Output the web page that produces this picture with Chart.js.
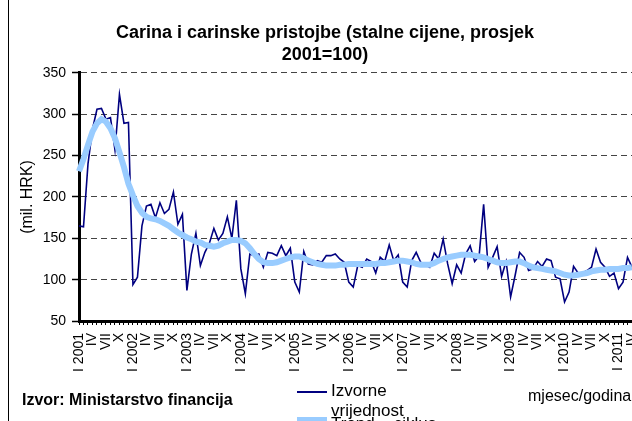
<!DOCTYPE html>
<html>
<head>
<meta charset="utf-8">
<script src="https://cdn.jsdelivr.net/npm/chart.js@4.4.1/dist/chart.umd.min.js"></script>
<style>
  html, body { margin: 0; padding: 0; background: #fff; overflow: hidden; }
  #wrap { position: relative; width: 632px; height: 421px; font-family: "Liberation Sans", Arial, sans-serif; color: #000; }
  #chart { position: absolute; left: 0; top: 0; }
  .okvir { position: absolute; left: 8px; top: 0; width: 1px; height: 421px; background: #000; }
  .txt { position: absolute; white-space: nowrap; }
  .izvor { left: 22px; top: 391px; font-size: 16px; font-weight: bold; line-height: 18px; }
  .os { left: 528px; top: 387px; font-size: 16px; line-height: 18px; }
  .leg { left: 331px; font-size: 17px; line-height: 20px; }
  .uzorak { position: absolute; left: 297px; width: 30px; }
</style>
</head>
<body>
<div id="wrap">
  <canvas id="chart" width="632" height="421"></canvas>
  <div class="okvir"></div>
  <div class="txt izvor">Izvor: Ministarstvo financija</div>
  <div class="txt os">mjesec/godina</div>
  <div class="uzorak" style="top:391px;height:2px;background:#000080"></div>
  <div class="txt leg" style="top:381px">Izvorne</div>
  <div class="txt leg" style="top:401px">vrijednost</div>
  <div class="uzorak" style="top:417px;height:6px;background:#99CCFF"></div>
  <div class="txt leg" style="top:414px">Trend – ciklus</div>
</div>
<script>
// -----------------------------
// Podaci
// -----------------------------
const godine = [2001, 2002, 2003, 2004, 2005, 2006, 2007, 2008, 2009, 2010, 2011];
const mjeseci = ['I', 'II', 'III', 'IV', 'V', 'VI', 'VII', 'VIII', 'IX', 'X', 'XI', 'XII'];
const brojMjeseci = 124; // I 2001 - IV 2011

// Izvorne vrijednosti (mil. HRK)
const izvorne = [
  165, 164, 240, 282, 306, 307, 294, 296, 257, 324, 289, 290,
  94, 103, 165, 189, 191, 175, 193, 180, 185, 206, 167, 179,
  87, 131, 156, 117, 133, 144, 162, 148, 156, 176, 150, 196,
  113, 83, 131, 129, 131, 115, 133, 132, 129, 141, 129, 138,
  97, 85, 134, 119, 118, 123, 121, 129, 129, 131, 125, 121,
  97, 91, 117, 115, 125, 122, 108, 127, 122, 142, 123, 130,
  97, 91, 123, 133, 121, 118, 115, 132, 125, 149, 119, 95,
  118, 108, 131, 141, 122, 129, 191, 115, 127, 140, 104, 122,
  79, 105, 133, 127, 111, 113, 122, 116, 125, 123, 103, 101,
  73, 85, 116, 108, 108, 111, 115, 137, 121, 115, 104, 108,
  89, 97, 127, 115
];

// Trend - ciklus
const trend = [
  231, 246, 263, 279, 289, 294, 291, 283, 271, 254, 236, 216,
  202, 189, 181, 176, 174, 173, 171, 168, 165, 161, 157, 154,
  151, 149, 146, 145, 142, 141, 140, 141, 144, 146, 148, 148,
  147, 144, 138, 131, 125, 121, 120, 120, 121, 123, 125, 127,
  128, 128, 126, 123, 121, 119, 118, 117, 117, 117, 118, 118,
  119, 119, 119, 119, 119, 119, 119, 120, 120, 121, 122, 123,
  123, 122, 121, 119, 118, 118, 118, 120, 123, 125, 127, 128,
  129, 130, 130, 130, 129, 128, 127, 125, 123, 121, 120, 120,
  121, 122, 122, 120, 117, 115, 114, 113, 112, 111, 110, 108,
  106, 105, 105, 106, 107, 108, 110, 111, 112, 112, 113, 113,
  113, 114, 114, 115
];

// oznake: "I 2001", "II", ... ; prikazuje se svaki treci mjesec
const oznake = [];
for (let i = 0; i < brojMjeseci; i++) {
  const m = i % 12;
  oznake.push(m === 0 ? 'I ' + godine[Math.floor(i / 12)] : mjeseci[m]);
}

const font = '"Liberation Sans", Arial, sans-serif';

// -----------------------------
// Grafikon
// -----------------------------
new Chart(document.getElementById('chart'), {
  type: 'line',
  data: {
    labels: oznake,
    datasets: [
      { label: 'Izvorne vrijednost', data: izvorne, borderColor: '#000080', borderWidth: 1.6,
        pointRadius: 0, tension: 0, fill: false, order: 2 },
      // trend se crta preko izvornih vrijednosti
      { label: 'Trend – ciklus', data: trend, borderColor: '#99CCFF', borderWidth: 6,
        pointRadius: 0, tension: 0, fill: false, order: 1 }
    ]
  },
  options: {
    responsive: false,
    animation: false,
    devicePixelRatio: 1,
    layout: { padding: { left: 18, right: 0, top: 0, bottom: 0 } },
    plugins: {
      legend: { display: false },
      tooltip: { enabled: false },
      title: {
        display: true,
        text: ['Carina i carinske pristojbe (stalne cijene, prosjek', '2001=100)'],
        color: '#000',
        font: { family: font, size: 18, weight: 'bold', lineHeight: 1.22 },
        padding: { top: 22, bottom: 7 }
      }
    },
    scales: {
      x: {
        ticks: {
          autoSkip: false, minRotation: 90, maxRotation: 90, padding: 8,
          color: '#000', font: { family: font, size: 14 },
          callback: (v, i) => i % 3 === 0 ? oznake[i] : ''
        },
        grid: { drawOnChartArea: false, tickLength: 4, color: '#000', lineWidth: 1 },
        border: { display: true, color: '#000', width: 3 },
        afterFit: s => { s.height = 100; s.paddingLeft = 0; s.paddingRight = 0; }
      },
      y: {
        min: 50, max: 350,
        ticks: { stepSize: 50, padding: 6, color: '#000', font: { family: font, size: 14 } },
        grid: {
          color: c => c.tick && c.tick.value === 50 ? 'rgba(0,0,0,0)' : '#444',
          lineWidth: 1, tickLength: 7, tickColor: '#000', tickWidth: 1.5, tickBorderDash: []
        },
        border: { display: true, color: '#000', width: 3, dash: [6, 4] },
        title: { display: true, text: '(mil. HRK)', color: '#000',
          font: { family: font, size: 16 }, padding: { top: 0, bottom: 0 } },
        afterFit: s => { s.width = 61; }
      }
    }
  }
});
</script>
</body>
</html>
